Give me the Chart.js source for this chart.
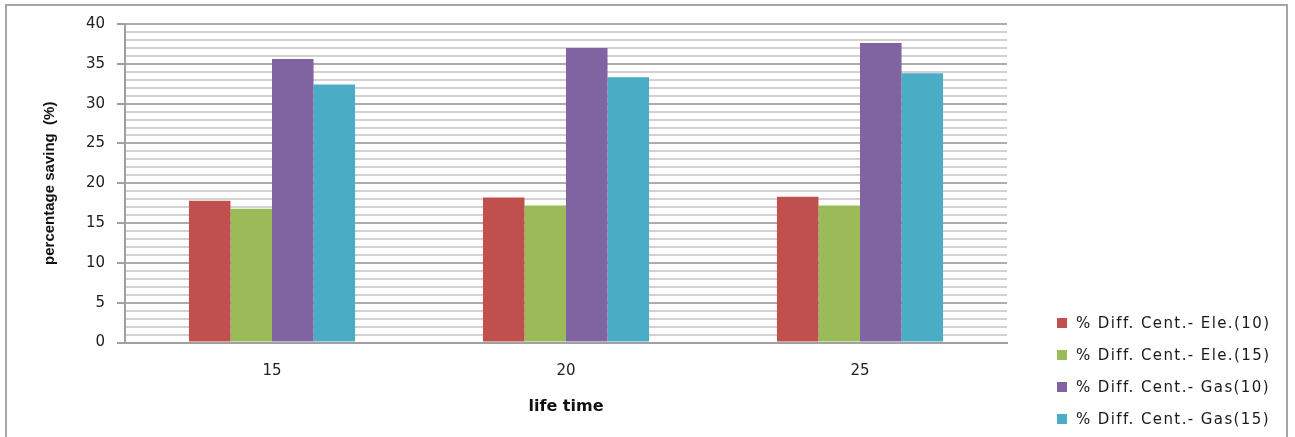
<!DOCTYPE html>
<html>
<head>
<meta charset="utf-8">
<script src="https://cdn.jsdelivr.net/npm/chart.js@4/dist/chart.umd.min.js"></script>
<style>
  html, body { margin: 0; padding: 0; background: #ffffff; }
  #wrap { position: relative; width: 1295px; height: 437px; }
</style>
</head>
<body>
<div id="wrap"><canvas id="chart" width="1295" height="437"></canvas></div>
<script>
// Project life time (years) on the category axis
const categories = ['15', '20', '25'];

// Percentage saving of each scheme
const eleDiff10 = [17.8, 18.2, 18.3];
const eleDiff15 = [16.8, 17.2, 17.2];
const gasDiff10 = [35.6, 37.0, 37.6];
const gasDiff15 = [32.4, 33.3, 33.8];

const seriesLabels = [
  '% Diff. Cent.- Ele.(10)',
  '% Diff. Cent.- Ele.(15)',
  '% Diff. Cent.- Gas(10)',
  '% Diff. Cent.- Gas(15)'
];
const seriesColors = ['#C0504D', '#9BBB59', '#8064A2', '#4BACC6'];

const yTitle = 'percentage saving  (%)';
const xTitle = 'life time';

// Outer frame round the whole chart
const framePlugin = {
  id: 'frame',
  beforeDraw(chart) {
    const ctx = chart.ctx;
    ctx.save();
    ctx.strokeStyle = '#a6a6a6';
    ctx.lineWidth = 2;
    ctx.strokeRect(6, 5, 1281, 445);
    ctx.restore();
  }
};

// Legend block in the lower right corner
const legendPlugin = {
  id: 'cornerLegend',
  afterDraw(chart) {
    const ctx = chart.ctx;
    ctx.save();
    ctx.font = '15px "DejaVu Sans", Verdana, sans-serif';
    ctx.letterSpacing = '1.4px';
    ctx.textBaseline = 'middle';
    ctx.textAlign = 'left';
    chart.data.datasets.forEach((ds, i) => {
      const cy = 323 + i * 32;
      ctx.fillStyle = ds.backgroundColor;
      ctx.fillRect(1057, cy - 5, 10, 10);
      ctx.fillStyle = '#1a1a1a';
      ctx.fillText(ds.label, 1076, cy + 1);
    });
    ctx.restore();
  }
};

const datasets = [eleDiff10, eleDiff15, gasDiff10, gasDiff15].map((values, i) => ({
  label: seriesLabels[i],
  data: values,
  backgroundColor: seriesColors[i],
  borderWidth: 0,
  categoryPercentage: 0.565,
  barPercentage: 1.0
}));

const isMajor = (c) => c.tick && c.tick.value % 5 === 0;

new Chart(document.getElementById('chart'), {
  type: 'bar',
  data: { labels: categories, datasets },
  plugins: [framePlugin, legendPlugin],
  options: {
    responsive: false,
    animation: false,
    devicePixelRatio: 1,
    layout: { padding: { left: 0, right: 288, top: 24, bottom: 0 } },
    plugins: {
      legend: { display: false },
      tooltip: { enabled: false }
    },
    scales: {
      x: {
        grid: { display: false, drawTicks: false },
        border: { display: true, color: '#a0a0a0', width: 2 },
        ticks: {
          padding: 20,
          color: '#222222',
          font: { family: '"DejaVu Sans", Verdana, sans-serif', size: 15 }
        },
        title: {
          display: true,
          text: xTitle,
          color: '#111111',
          font: { family: '"DejaVu Sans", Verdana, sans-serif', size: 16, weight: 'bold' },
          padding: { top: 0, bottom: 21 }
        },
        afterFit(scale) { scale.height = 94.5; }
      },
      y: {
        min: 0,
        max: 40,
        ticks: {
          stepSize: 1,
          autoSkip: false,
          padding: 12,
          color: '#222222',
          font: { family: '"DejaVu Sans", Verdana, sans-serif', size: 15 },
          callback: (v) => (v % 5 === 0 ? String(v) : '')
        },
        grid: {
          drawTicks: true,
          tickLength: 8,
          color: (c) => (isMajor(c) ? '#acacac' : '#d2d2d2'),
          lineWidth: 2,
          tickColor: (c) => (isMajor(c) ? '#a0a0a0' : 'rgba(0,0,0,0)'),
          tickWidth: 2
        },
        border: { display: true, color: '#a0a0a0', width: 2 },
        title: {
          display: true,
          text: yTitle,
          color: '#111111',
          font: { family: '"Liberation Sans", Arial, sans-serif', size: 15, weight: 'bold' },
          padding: { top: 41, bottom: 0 }
        },
        afterFit(scale) { scale.width = 125; }
      }
    }
  }
});
</script>
</body>
</html>
